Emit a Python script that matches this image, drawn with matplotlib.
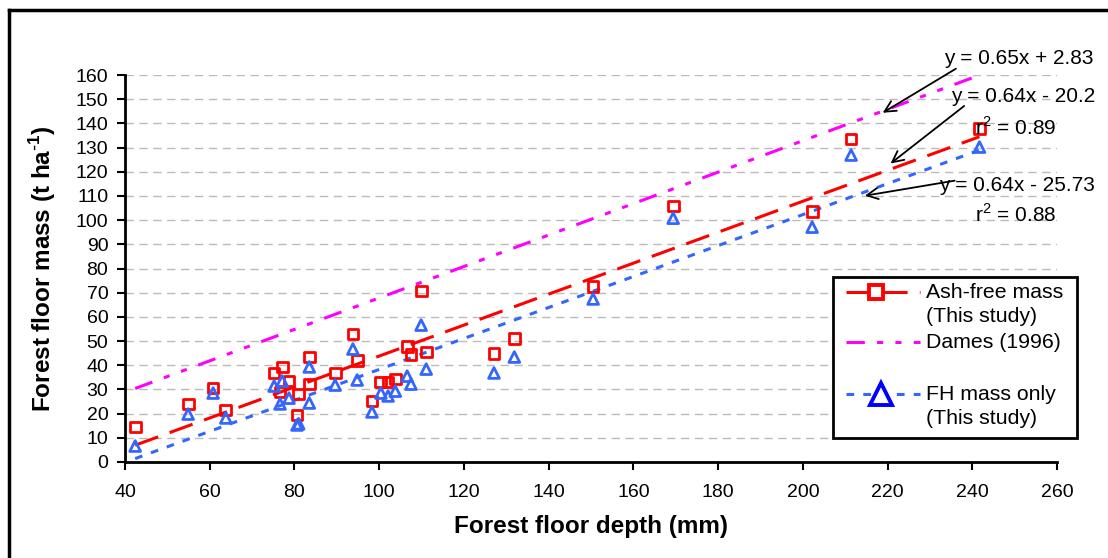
import matplotlib
matplotlib.use("Agg")
import matplotlib.pyplot as plt
from matplotlib.lines import Line2D
from matplotlib.patches import Rectangle
import numpy as np

plt.rcParams['font.family'] = ['Liberation Sans', 'DejaVu Sans']

# Forest floor depth (mm)
depth = [42.4, 54.9, 60.8, 63.8, 75.2, 77.1, 78.7, 76.6, 81.0, 80.6, 83.5, 83.5, 89.6,
         93.8, 94.8, 98.3, 100.4, 102.1, 103.8, 106.6, 107.5, 109.9, 111.1, 127.1, 131.9,
         150.5, 169.4, 202.2, 211.4, 241.7]
# Ash-free mass (t/ha)
ash_free = [14.5, 24.0, 30.6, 21.5, 36.8, 39.3, 33.5, 28.9, 28.1, 19.4, 43.4, 32.2, 36.8,
            52.9, 42.1, 25.2, 33.1, 33.1, 34.3, 47.9, 44.6, 70.7, 45.5, 45.0, 51.2,
            72.7, 105.8, 103.7, 133.5, 138.0]
# FH mass only (t/ha)
fh_mass = [6.6, 19.8, 28.5, 18.2, 31.4, 33.5, 26.4, 24.0, 15.8, 15.3, 39.3, 24.4, 31.8,
           46.7, 33.9, 20.7, 28.5, 27.3, 29.3, 35.5, 32.2, 56.6, 38.4, 36.8, 43.4,
           67.4, 100.8, 97.1, 126.9, 130.2]

# regression coefficients (slope, intercept)
ash_fit = (0.64, -20.2)
fh_fit = (0.64, -25.73)
dames_fit = (0.65, 2.83)

x_ticks = list(range(40, 261, 20))
y_ticks = list(range(0, 161, 10))

W, H = 1108, 558
fig = plt.figure(figsize=(W/100, H/100), dpi=100)
ax = fig.add_axes([125/W, 1-462/H, (1057-125)/W, (462-75)/H])

def fx(px):
    return px / W

def fy(py):
    return 1 - py / H

red = '#FF0000'
mag = '#FF00FF'
blue = '#3366FF'
dames_dash = (6, 4, 2, 4, 2, 4)
ash_dash = (8, 4)
fh_dash = (2.5, 3)

xs = np.array([min(depth), max(depth)])
ax.plot(xs, dames_fit[0]*xs + dames_fit[1], color=mag, lw=2.2, dashes=dames_dash, zorder=2)
ax.plot(xs, ash_fit[0]*xs + ash_fit[1], color=red, lw=2.2, dashes=ash_dash, zorder=2)
ax.plot(xs, fh_fit[0]*xs + fh_fit[1], color=blue, lw=2.2, dashes=fh_dash, zorder=2)

ax.scatter(depth, ash_free, marker='s', s=60, facecolors='none', edgecolors=red,
           linewidths=2, zorder=3)
ax.scatter(depth, fh_mass, marker='^', s=60, facecolors='none', edgecolors=blue,
           linewidths=2, zorder=3)

ax.set_xlim(40, 260)
ax.set_ylim(0, 160)
ax.set_xticks(x_ticks)
ax.set_yticks(y_ticks)
ax.tick_params(axis='both', labelsize=14, direction='out', length=6, width=1.5)
ax.tick_params(axis='x', pad=10)
ax.tick_params(axis='y', pad=6)
ax.yaxis.grid(True, color='#BBBBBB', linestyle=(0, (6, 4)), lw=1)
ax.set_axisbelow(True)
for s in ['top', 'right']:
    ax.spines[s].set_visible(False)
for s in ['left', 'bottom']:
    ax.spines[s].set_linewidth(2)

ax.set_xlabel('Forest floor depth (mm)', fontsize=17.5, fontweight='bold')
ax.set_ylabel('Forest floor mass (t ha$^{\\mathregular{\\text{-}1}}$)', fontsize=17.5,
              fontweight='bold')
ax.xaxis.set_label_coords((591-125)/(1057-125), -(527-462)/(462-75))
ax.yaxis.set_label_coords(-(125-43)/(1057-125), 0.5)
ax.xaxis.label.set_va('center')
ax.yaxis.label.set_va('center')

# annotations
akw = dict(arrowprops=dict(arrowstyle='->', color='black', lw=1.3, mutation_scale=20),
           annotation_clip=False)
ax.annotate('', xy=(218.3, 143.8), xytext=(236.7, 163.2), **akw)
ax.annotate('', xy=(220.2, 122.7), xytext=(238.6, 147.9), **akw)
ax.annotate('', xy=(214.0, 109.9), xytext=(236.5, 116.5), **akw)
tfs = 15
fig.text(fx(1094), fy(58), 'y = 0.65x + 2.83', fontsize=tfs, ha='right', va='center')
fig.text(fx(1095), fy(97), 'y = 0.64x - 20.2', fontsize=tfs, ha='right', va='center')
fig.text(fx(975), fy(128), 'r$^{\\mathregular{2}}$ = 0.89', fontsize=tfs, ha='left', va='center')
fig.text(fx(1095), fy(185), 'y = 0.64x - 25.73', fontsize=tfs, ha='right', va='center')
fig.text(fx(975), fy(215), 'r$^{\\mathregular{2}}$ = 0.88', fontsize=tfs, ha='left', va='center')

# legend (drawn as a framed box with sample lines and labels)
fig.add_artist(Rectangle((fx(833), fy(438)), fx(1077) - fx(833), fy(277) - fy(438),
                         transform=fig.transFigure, facecolor='white', edgecolor='black',
                         lw=2, zorder=5))
lfs = 15.3
entries = [
    (292, red, ash_dash, 's', 10, red, 876, ['Ash-free mass', '(This study)']),
    (342, mag, dames_dash, None, 0, None, None, ['Dames (1996)']),
    (394, blue, fh_dash, '^', 16, '#0000FF', 881, ['FH mass only', '(This study)']),
]
for ypx, col, dsh, mk, ms, mcol, mx, lines in entries:
    fig.add_artist(Line2D([fx(846), fx(920)], [fy(ypx), fy(ypx)], color=col, lw=2.2,
                          dashes=dsh, transform=fig.transFigure, zorder=6))
    if mk:
        fig.add_artist(Line2D([fx(mx)], [fy(ypx)], marker=mk, markersize=ms,
                              markerfacecolor='white', markeredgecolor=mcol,
                              markeredgewidth=2.8, linestyle='none',
                              transform=fig.transFigure, zorder=7))
    for i, t in enumerate(lines):
        fig.text(fx(926), fy(ypx + 25 * i), t, fontsize=lfs, ha='left', va='center',
                 zorder=7)

# outer frame (top and left visible)
fig.add_artist(Line2D([fx(9), 1.0], [fy(10), fy(10)], color='black', lw=2.5,
                      transform=fig.transFigure))
fig.add_artist(Line2D([fx(9), fx(9)], [0.0, fy(10)], color='black', lw=2.5,
                      transform=fig.transFigure))

fig.savefig('out.png', dpi=100)
